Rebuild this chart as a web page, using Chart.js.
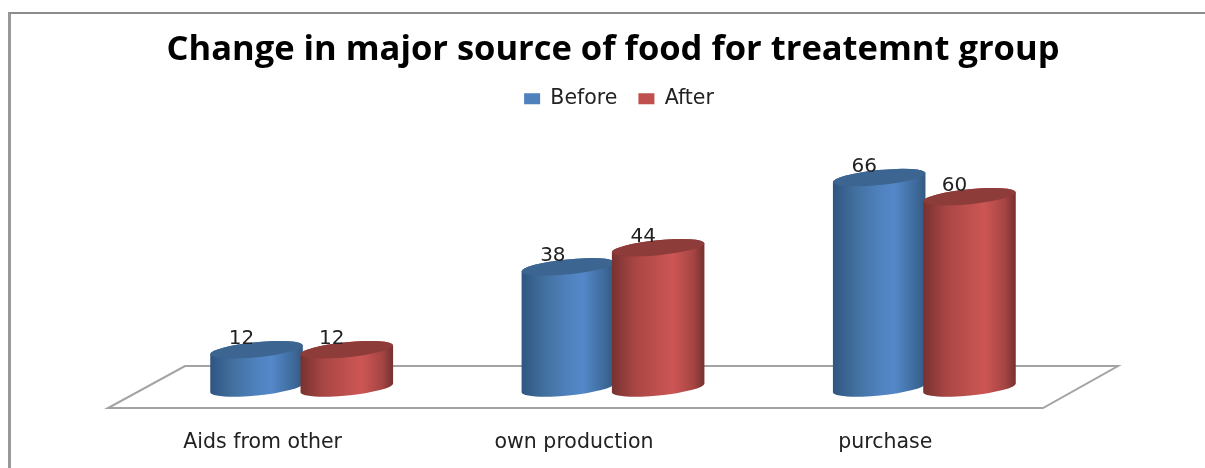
<!DOCTYPE html>
<html>
<head>
<meta charset="utf-8">
<title>Change in major source of food</title>
<script src="https://cdn.jsdelivr.net/npm/chart.js@4/dist/chart.umd.min.js"></script>
<style>
  html, body { margin: 0; padding: 0; background: #fff; overflow: hidden; }
  #page { position: relative; width: 1205px; height: 468px; overflow: hidden; }
  /* only the left and top edges of the frame are in the crop */
  #frame { position: absolute; left: 8px; top: 12px; width: 1300px; height: 500px; border-left: 3px solid #999; border-top: 2px solid #8c8c8c; box-sizing: border-box; }
  canvas { position: absolute; left: 0; top: 0; }
</style>
</head>
<body>
<div id="page">
  <div id="frame"></div>
  <canvas id="chart" width="1205" height="468"></canvas>
</div>
<script>
const categories = ['Aids from other', 'own production', 'purchase'];
const beforeValues = [12, 38, 66];
const afterValues = [12, 44, 60];

const TITLE_FONT = '"Open Sans", "Noto Sans", sans-serif';
const FONT = '"DejaVu Sans", sans-serif';

// Colour stops for the cylinder sides, and the darker cap
const shades = {
  Before: { stops: ['#2f5581', '#42709f', '#4f81bd', '#5488c9', '#3f6c9e', '#34597f'], cap: '#3d6592' },
  After: { stops: ['#773230', '#a84644', '#bf504e', '#cd5654', '#a54543', '#75302e'], cap: '#8e3c39' }
};

const TILT = -5.6 * Math.PI / 180;
const CAP_RY = 7.5;

function drawCylinder(ctx, bar, shade) {
  const rx = bar.width / 2;
  const grad = ctx.createLinearGradient(bar.x - rx, 0, bar.x + rx, 0);
  const offsets = [0, 0.25, 0.5, 0.66, 0.88, 1];
  shade.stops.forEach((c, i) => grad.addColorStop(offsets[i], c));

  ctx.beginPath();
  ctx.ellipse(bar.x, bar.base, rx, CAP_RY, TILT, 0, Math.PI);
  ctx.ellipse(bar.x, bar.y, rx, CAP_RY, TILT, Math.PI, 2 * Math.PI);
  ctx.closePath();
  ctx.fillStyle = grad;
  ctx.fill();

  ctx.beginPath();
  ctx.ellipse(bar.x, bar.y, rx, CAP_RY, TILT, 0, 2 * Math.PI);
  ctx.fillStyle = shade.cap;
  ctx.fill();
}

// Excel style 3D look: floor, cylinders instead of flat bars, value labels
const cylinderPlugin = {
  id: 'cylinders',
  afterLayout(chart) {
    // legend sits a little right of the plot centre
    chart.legend.left += 6;
    chart.legend.right += 6;
  },
  beforeDatasetsDraw(chart) {
    const { ctx, chartArea: a } = chart;
    ctx.save();
    ctx.beginPath();
    ctx.moveTo(a.left - 38, a.bottom + 20);
    ctx.lineTo(a.right - 37, a.bottom + 20);
    ctx.lineTo(a.right + 38, a.bottom - 22);
    ctx.lineTo(a.left + 39, a.bottom - 22);
    ctx.closePath();
    ctx.strokeStyle = '#a3a3a3';
    ctx.lineWidth = 2;
    ctx.stroke();
    ctx.restore();
  },
  // the flat bars are skipped, cylinders go on in afterDatasetsDraw so After overlaps Before
  beforeDatasetDraw() {
    return false;
  },
  afterDatasetsDraw(chart) {
    const { ctx } = chart;
    ctx.save();
    chart.data.datasets.forEach((ds, i) => {
      chart.getDatasetMeta(i).data.forEach(bar => drawCylinder(ctx, bar, shades[ds.label]));
    });
    ctx.font = '20px ' + FONT;
    ctx.fillStyle = '#222';
    ctx.textAlign = 'center';
    ctx.textBaseline = 'middle';
    chart.data.datasets.forEach((ds, i) => {
      chart.getDatasetMeta(i).data.forEach((bar, j) => {
        ctx.fillText(ds.data[j], bar.x - 15, bar.y - 11);
      });
    });
    ctx.restore();
  }
};

new Chart(document.getElementById('chart'), {
  type: 'bar',
  data: {
    labels: categories,
    datasets: [
      { label: 'Before', data: beforeValues, backgroundColor: '#4f81bd' },
      { label: 'After', data: afterValues, backgroundColor: '#c0504d' }
    ]
  },
  options: {
    responsive: false,
    animation: false,
    layout: { padding: { left: 146, right: 125, top: 29, bottom: 0 } },
    datasets: { bar: { categoryPercentage: 0.58, barPercentage: 1.03 } },
    scales: {
      x: {
        grid: { display: false, drawTicks: false },
        border: { display: false },
        ticks: { color: '#222', font: { family: FONT, size: 20.5 }, padding: 42, labelOffset: -39, maxRotation: 0 },
        afterFit: scale => { scale.height = 80; }
      },
      y: { display: false, min: 0, max: 84.4 }
    },
    plugins: {
      title: {
        display: true,
        text: 'Change in major source of food for treatemnt group',
        color: '#000',
        font: { family: TITLE_FONT, size: 34.5, weight: 'bold' },
        padding: { top: 0, bottom: -3 }
      },
      legend: {
        position: 'top',
        labels: { color: '#222', boxWidth: 16, boxHeight: 11, font: { family: FONT, size: 20.5 }, padding: 21 }
      },
      tooltip: { enabled: false }
    }
  },
  plugins: [cylinderPlugin]
});
</script>
</body>
</html>
